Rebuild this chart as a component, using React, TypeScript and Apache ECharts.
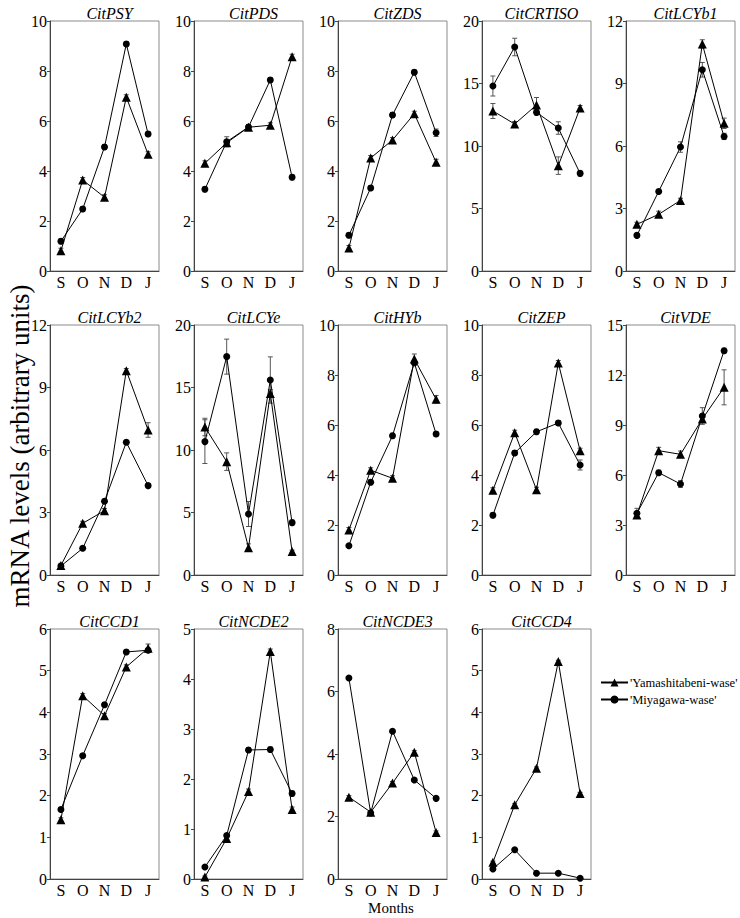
import React, { useEffect, useRef } from "react";
import * as echarts from "echarts";

const months = ["S", "O", "N", "D", "J"];
const genes = [
  "CitPSY", "CitPDS", "CitZDS", "CitCRTISO", "CitLCYb1",
  "CitLCYb2", "CitLCYe", "CitHYb", "CitZEP", "CitVDE",
  "CitCCD1", "CitNCDE2", "CitNCDE3", "CitCCD4",
];
const yMax = [10, 10, 10, 20, 12, 12, 20, 10, 10, 15, 6, 5, 8, 6];
const yStep = [2, 2, 2, 5, 3, 3, 5, 2, 2, 3, 1, 1, 2, 1];

const yamashitabeni = [
  [0.81, 3.64, 2.95, 6.95, 4.67],
  [4.31, 5.13, 5.75, 5.83, 8.57],
  [0.92, 4.52, 5.24, 6.29, 4.35],
  [12.8, 11.76, 13.28, 8.43, 13.04],
  [2.24, 2.72, 3.39, 10.9, 7.09],
  [0.46, 2.48, 3.09, 9.81, 6.96],
  [11.84, 9.07, 2.19, 14.53, 1.89],
  [1.8, 4.19, 3.87, 8.64, 7.03],
  [3.39, 5.69, 3.41, 8.48, 4.97],
  [3.6, 7.46, 7.24, 9.36, 11.26],
  [1.42, 4.4, 3.92, 5.09, 5.54],
  [0.04, 0.81, 1.75, 4.55, 1.39],
  [2.62, 2.14, 3.07, 4.06, 1.49],
  [0.4, 1.78, 2.66, 5.22, 2.05],
];
const miyagawa = [
  [1.19, 2.48, 4.96, 9.08, 5.48],
  [3.27, 5.17, 5.76, 7.64, 3.75],
  [1.43, 3.32, 6.24, 7.95, 5.53],
  [14.8, 17.92, 12.69, 11.44, 7.81],
  [1.71, 3.82, 5.95, 9.66, 6.46],
  [0.43, 1.28, 3.54, 6.37, 4.29],
  [10.67, 17.47, 4.88, 15.6, 4.19],
  [1.17, 3.71, 5.57, 8.49, 5.64],
  [2.39, 4.88, 5.73, 6.08, 4.4],
  [3.7, 6.14, 5.46, 9.54, 13.46],
  [1.67, 2.96, 4.18, 5.45, 5.49],
  [0.24, 0.87, 2.58, 2.59, 1.71],
  [6.43, 2.11, 4.73, 3.17, 2.58],
  [0.24, 0.7, 0.14, 0.14, 0.02],
];
const yamaErr = [
  [0.1, 0.1, 0.1, 0.1, 0.1],
  [0.1, 0.1, 0.1, 0.1, 0.1],
  [0.1, 0.1, 0.1, 0.1, 0.12],
  [0.6, 0.2, 0.6, 0.7, 0.2],
  [0.1, 0.15, 0.1, 0.2, 0.25],
  [0.1, 0.1, 0.1, 0.1, 0.35],
  [0.7, 0.7, 0.3, 0.3, 0.1],
  [0.1, 0.1, 0.1, 0.2, 0.15],
  [0.1, 0.1, 0.1, 0.1, 0.1],
  [0.15, 0.2, 0.2, 0.2, 1.05],
  [0.05, 0.05, 0.05, 0.05, 0.1],
  [0.02, 0.03, 0.05, 0.05, 0.05],
  [0.05, 0.05, 0.05, 0.05, 0.05],
  [0.03, 0.03, 0.03, 0.03, 0.03],
];
const miyaErr = [
  [0.1, 0.1, 0.1, 0.1, 0.1],
  [0.1, 0.2, 0.1, 0.1, 0.1],
  [0.1, 0.1, 0.1, 0.1, 0.15],
  [0.8, 0.7, 0.2, 0.5, 0.2],
  [0.1, 0.1, 0.25, 0.35, 0.15],
  [0.05, 0.1, 0.1, 0.1, 0.1],
  [1.75, 1.4, 1.0, 1.85, 0.2],
  [0.05, 0.1, 0.1, 0.1, 0.1],
  [0.1, 0.1, 0.1, 0.1, 0.2],
  [0.3, 0.15, 0.2, 0.5, 0.15],
  [0.05, 0.05, 0.05, 0.05, 0.05],
  [0.02, 0.03, 0.05, 0.05, 0.05],
  [0.05, 0.05, 0.05, 0.05, 0.05],
  [0.02, 0.02, 0.02, 0.02, 0.02],
];

const seriesNames = ["'Yamashitabeni-wase'", "'Miyagawa-wase'"];

const FONT = "Liberation Serif";

export default function App() {
  const ref = useRef<HTMLDivElement>(null);
  useEffect(() => {
    if (!ref.current) return;
    const chart = echarts.init(ref.current, undefined, { renderer: "svg" });
    const lefts = [50, 194, 338, 482, 626];
    const tops = [21, 325, 629];
    const W = 109;
    const H = 250;
    const grids: any[] = [];
    const xAxes: any[] = [];
    const yAxes: any[] = [];
    const series: any[] = [];
    const titles: any[] = [];

    const errRender = (params: any, api: any) => {
      const x = api.value(0);
      const lo = api.coord([x, api.value(1)]);
      const hi = api.coord([x, api.value(2)]);
      const w = 2.5;
      const st = { stroke: "#555", lineWidth: 1 };
      return {
        type: "group",
        children: [
          { type: "line", shape: { x1: lo[0], y1: lo[1], x2: hi[0], y2: hi[1] }, style: st },
          { type: "line", shape: { x1: hi[0] - w, y1: hi[1], x2: hi[0] + w, y2: hi[1] }, style: st },
          { type: "line", shape: { x1: lo[0] - w, y1: lo[1], x2: lo[0] + w, y2: lo[1] }, style: st },
        ],
      };
    };

    genes.forEach((g, i) => {
      const row = Math.floor(i / 5);
      const col = i % 5;
      const left = lefts[col];
      const top = tops[row];
      grids.push({
        left, top, width: W, height: H,
        show: true, borderColor: "#8a8a8a", borderWidth: 1, backgroundColor: "transparent",
      });
      titles.push({
        text: g,
        left: left + W / 2,
        top: top - 21,
        textAlign: "center",
        textStyle: { fontFamily: FONT, fontStyle: "italic", fontWeight: "normal", fontSize: 16, color: "#000" },
      });
      xAxes.push({
        type: "category", gridIndex: i, data: months, boundaryGap: true,
        axisLine: { lineStyle: { color: "#444", width: 1 } },
        axisTick: { show: false },
        axisLabel: { fontFamily: FONT, fontSize: 16, color: "#000", margin: 3, interval: 0 },
        splitLine: { show: false },
      });
      yAxes.push({
        type: "value", gridIndex: i, min: 0, max: yMax[i], interval: yStep[i],
        axisLine: { show: true, lineStyle: { color: "#444", width: 1 } },
        axisTick: { show: true, length: 3, lineStyle: { color: "#444" } },
        axisLabel: { fontFamily: FONT, fontSize: 16, color: "#000", margin: 3 },
        splitLine: { show: false },
      });
      series.push({
        type: "custom", xAxisIndex: i, yAxisIndex: i, renderItem: errRender, silent: true, z: 1,
        encode: { x: 0, y: [1, 2] },
        data: yamashitabeni[i].map((v, k) => [k, v - yamaErr[i][k], v + yamaErr[i][k]]),
      });
      series.push({
        type: "custom", xAxisIndex: i, yAxisIndex: i, renderItem: errRender, silent: true, z: 1,
        encode: { x: 0, y: [1, 2] },
        data: miyagawa[i].map((v, k) => [k, v - miyaErr[i][k], v + miyaErr[i][k]]),
      });
      series.push({
        name: seriesNames[0], type: "line", xAxisIndex: i, yAxisIndex: i, z: 3,
        data: yamashitabeni[i], symbol: "triangle", symbolSize: 9,
        lineStyle: { color: "#000", width: 1 }, itemStyle: { color: "#000" },
      });
      series.push({
        name: seriesNames[1], type: "line", xAxisIndex: i, yAxisIndex: i, z: 3,
        data: miyagawa[i], symbol: "circle", symbolSize: 7,
        lineStyle: { color: "#000", width: 1 }, itemStyle: { color: "#000" },
      });
    });

    chart.setOption({
      animation: false,
      backgroundColor: "#fff",
      title: titles,
      grid: grids,
      xAxis: xAxes,
      yAxis: yAxes,
      series,
      legend: {
        data: seriesNames,
        orient: "vertical",
        left: 600,
        top: 676,
        itemWidth: 27,
        itemHeight: 10,
        itemGap: 4,
        padding: 0,
        selectedMode: false,
        textStyle: { fontFamily: FONT, fontSize: 12.5, color: "#000", padding: [0, 0, 0, -3] },
      },
      graphic: [
        {
          type: "text", x: 20, y: 446, rotation: Math.PI / 2,
          style: {
            text: "mRNA levels (arbitrary units)", fontFamily: FONT, fontSize: 27,
            fill: "#000", align: "center", verticalAlign: "middle",
          },
        },
        {
          type: "text", x: 391, y: 908,
          style: {
            text: "Months", fontFamily: FONT, fontSize: 15, fill: "#000",
            align: "center", verticalAlign: "middle",
          },
        },
      ],
    });
    return () => chart.dispose();
  }, []);
  return (
    <div
      ref={ref}
      style={{ position: "fixed", left: 0, top: 0, width: 740, height: 918, background: "#fff" }}
    />
  );
}
